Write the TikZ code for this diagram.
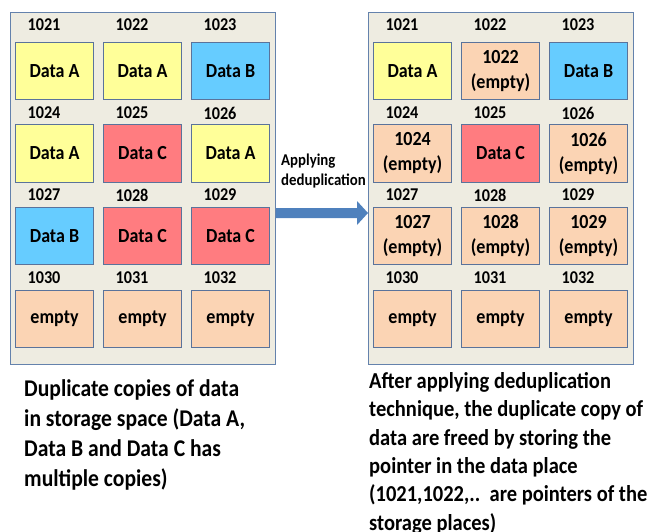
\documentclass[tikz,border=0pt]{standalone}
\usepackage{fontspec}
\setmainfont{Carlito}[FakeStretch=0.9]
\usetikzlibrary{calc}
\definecolor{panelfill}{RGB}{238,236,225}
\definecolor{paneldraw}{RGB}{100,130,172}
\definecolor{boxdraw}{RGB}{90,115,155}
\definecolor{cyellow}{RGB}{255,255,153}
\definecolor{cblue}{RGB}{102,204,255}
\definecolor{cred}{RGB}{255,124,128}
\definecolor{cpeach}{RGB}{251,212,180}
\definecolor{arrowblue}{RGB}{79,129,189}
\begin{document}
\begin{tikzpicture}[x=1pt,y=-1pt,
  panel/.style={draw=paneldraw,line width=1.2pt,fill=panelfill,anchor=north west,inner sep=0pt},
  cell/.style={draw=boxdraw,line width=1pt,anchor=north west,minimum width=78pt,minimum height=57pt,
    inner sep=2pt,align=center,font=\fontsize{20}{25}\selectfont\bfseries},
  addr/.style={font=\fontsize{18}{20}\selectfont\bfseries,inner sep=0pt},
  note/.style={anchor=north west,align=left,inner sep=0pt}]
\useasboundingbox (0,0) rectangle (648,532);

% storage panels
\node[panel,minimum width=265pt,minimum height=352pt] (Lp) at (10,12) {};
\node[panel,minimum width=265pt,minimum height=352pt] (Rp) at (368,12) {};

% address labels above the slots
\foreach \r/\ly in {0/25,1/113,2/195,3/278}{
  \foreach \c in {0,1,2}{
    \pgfmathtruncatemacro\num{1021+3*\r+\c}
    \node[addr] (La\num) at (44+88*\c,\ly) {\num};
    \node[addr] (Ra\num) at (402+88*\c,\ly) {\num};
  }
}

% slots before deduplication
\node[cell,fill=cyellow] (L1) at (15,42) {Data A};
\node[cell,fill=cyellow] (L2) at (103,42) {Data A};
\node[cell,fill=cblue]   (L3) at (191,42) {Data B};
\node[cell,fill=cyellow] (L4) at (15,124.5) {Data A};
\node[cell,fill=cred]    (L5) at (103,124.5) {Data C};
\node[cell,fill=cyellow] (L6) at (191,124.5) {Data A};
\node[cell,fill=cblue]   (L7) at (15,207) {Data B};
\node[cell,fill=cred]    (L8) at (103,207) {Data C};
\node[cell,fill=cred]    (L9) at (191,207) {Data C};
\node[cell,fill=cpeach]  (L10) at (15,289.5) {empty};
\node[cell,fill=cpeach]  (L11) at (103,289.5) {empty};
\node[cell,fill=cpeach]  (L12) at (191,289.5) {empty};

% slots after deduplication
\node[cell,fill=cyellow] (R1) at (373,42) {Data A};
\node[cell,fill=cpeach]  (R2) at (461,42) {1022\\(empty)};
\node[cell,fill=cblue]   (R3) at (549,42) {Data B};
\node[cell,fill=cpeach]  (R4) at (373,124.5) {1024\\(empty)};
\node[cell,fill=cred]    (R5) at (461,124.5) {Data C};
\node[cell,fill=cpeach]  (R6) at (549,124.5) {1026\\(empty)};
\node[cell,fill=cpeach]  (R7) at (373,207) {1027\\(empty)};
\node[cell,fill=cpeach]  (R8) at (461,207) {1028\\(empty)};
\node[cell,fill=cpeach]  (R9) at (549,207) {1029\\(empty)};
\node[cell,fill=cpeach]  (R10) at (373,289.5) {empty};
\node[cell,fill=cpeach]  (R11) at (461,289.5) {empty};
\node[cell,fill=cpeach]  (R12) at (549,289.5) {empty};

% block arrow between the panels
\coordinate (as) at (Lp.east |- 0,213);
\coordinate (ae) at (Rp.west |- 0,213);
\fill[arrowblue] ($(as)+(0,-5)$) -- ($(ae)+(-11,-5)$) -- ($(ae)+(-11,-12)$) -- (ae)
  -- ($(ae)+(-11,12)$) -- ($(ae)+(-11,5)$) -- ($(as)+(0,5)$) -- cycle;
\node[note,font=\fontsize{16.5}{19.5}\selectfont\bfseries] (lbl) at (281,154) {Applying\\deduplication};

% captions
\node[note,font=\fontsize{24}{30}\selectfont\bfseries] (capL) at (24,379)
  {Duplicate copies of data\\in storage space (Data A,\\Data B and Data C has\\multiple copies)};
\node[note,font=\fontsize{22.8}{28.4}\selectfont\bfseries] (capR) at (369,372)
  {After applying deduplication\\technique, the duplicate copy of\\data are freed by storing the\\pointer in the data place\\(1021,1022,..\ \ are pointers of the\\storage places)};
\end{tikzpicture}
\end{document}
